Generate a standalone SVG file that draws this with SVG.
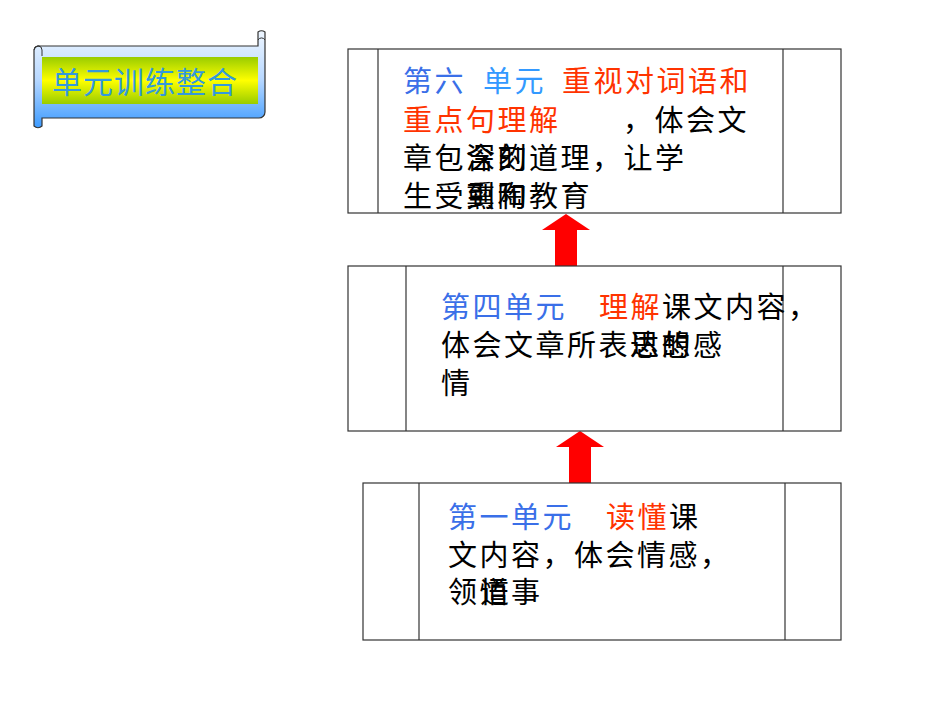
<svg xmlns="http://www.w3.org/2000/svg" width="950" height="713" viewBox="0 0 950 713">
<defs>
<linearGradient id="sc" x1="0" y1="0" x2="0" y2="1"><stop offset="0" stop-color="#eef6ff"/><stop offset="0.5" stop-color="#b8d8ff"/><stop offset="1" stop-color="#3d9bff"/></linearGradient>
<linearGradient id="yg" x1="0" y1="0" x2="0" y2="1"><stop offset="0" stop-color="#99cc00"/><stop offset="0.5" stop-color="#ffff00"/><stop offset="1" stop-color="#99cc00"/></linearGradient>
<style>
.b{fill:#fff;stroke:#333;stroke-width:1.2}
.l{stroke:#333;stroke-width:1.2}
text{font-family:"Noto Sans CJK SC",sans-serif;font-size:29px;letter-spacing:2.5px;fill:#000}
.bl{fill:#3a6fe8}.bl2{fill:#3399ff}.r{fill:#ff3300}
.a{fill:#ff0000}
</style>
</defs>
<g id="banner">
<path d="M40,46 H258 V32 a6,6 0 0 1 7,0 V112 a6,6 0 0 1 -6,6 H42 V126 a6,6 0 0 1 -8,0 V50 a5,5 0 0 1 6,-4 Z" fill="url(#sc)" stroke="#333" stroke-width="1.2"/>
<path d="M258,40 a4,4 0 0 1 7,0" fill="none" stroke="#333"/>
<path d="M34,50 a4,4 0 0 1 8,0 V56" fill="none" stroke="#333"/>
<rect x="42" y="57" width="216" height="47" fill="url(#yg)"/>
<text x="52" y="93" style="fill:#3399dd;font-size:30px;letter-spacing:1px">单元训练整合</text>
</g>
<g id="connectors">
<polygon class="a" points="555,266 577,266 577,230 590,230 566,214 542,230 555,230"/>
<polygon class="a" points="569,483 591,483 591,447 604,447 580,431 556,447 569,447"/>
</g>
<g id="box6">
<rect class="b" x="348" y="49" width="493" height="164"/>
<line class="l" x1="378" y1="49" x2="378" y2="213"/><line class="l" x1="783" y1="49" x2="783" y2="213"/>
<text x="403" y="92"><tspan class="bl">第六</tspan><tspan class="bl2" x="483">单元</tspan><tspan class="r" x="562">重视对词语和</tspan></text>
<text x="403" y="131"><tspan class="r">重点句理解</tspan><tspan x="623">，体会文</tspan></text>
<text x="403" y="169">章包含的道理，让学</text>
<text x="466" y="169">深刻</text>
<text x="403" y="207">生受到和教育</text>
<text x="466" y="207">熏陶</text>
</g>
<g id="box4">
<rect class="b" x="348" y="266" width="493" height="165"/>
<line class="l" x1="406" y1="266" x2="406" y2="431"/><line class="l" x1="783" y1="266" x2="783" y2="431"/>
<text x="441" y="318"><tspan class="bl">第四单元</tspan><tspan class="r" x="599">理解</tspan>课文内容，</text>
<text x="441" y="356">体会文章所表达的感</text>
<text x="630" y="356">思想</text>
<text x="441" y="394">情</text>
</g>
<g id="box1">
<rect class="b" x="363" y="483" width="478" height="157"/>
<line class="l" x1="419" y1="483" x2="419" y2="640"/><line class="l" x1="785" y1="483" x2="785" y2="640"/>
<text x="448" y="528"><tspan class="bl">第一单元</tspan><tspan class="r" x="606">读懂</tspan>课</text>
<text x="448" y="566">文内容，体会情感，</text>
<text x="448" y="603">领悟事</text>
<text x="480" y="603">道</text>
</g>
</svg>
